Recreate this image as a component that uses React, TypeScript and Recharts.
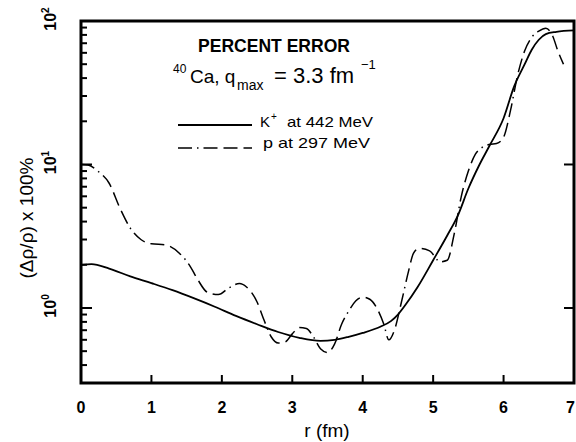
import { Line, LineChart, ReferenceArea, XAxis, YAxis } from "recharts";

// r (fm) and percent error
const R_TICKS = [0, 1, 2, 3, 4, 5, 6, 7];
const ERR_TICKS = [0.4, 0.5, 0.6, 0.7, 0.8, 0.9, 1, 2, 3, 4, 5, 6, 7, 8, 9, 10, 20, 30, 40, 50, 60, 70, 80, 90, 100];
const MAJOR = [1, 10, 100];

const K_R = [0, 0.15, 0.4, 0.7, 1.0, 1.3, 1.6, 1.9, 2.2, 2.5, 2.8, 3.1, 3.4, 3.6, 3.8, 4.0, 4.25, 4.4, 4.5, 4.6, 4.78, 5.0, 5.2, 5.35, 5.5, 5.65, 5.8, 6.0, 6.15, 6.3, 6.4, 6.5, 6.6, 6.75, 7.0];
const K_ERR = [2.0, 2.02, 1.88, 1.66, 1.49, 1.33, 1.17, 1.02, 0.88, 0.77, 0.68, 0.62, 0.59, 0.6, 0.63, 0.67, 0.74, 0.81, 0.9, 1.04, 1.4, 2.15, 3.2, 4.4, 6.8, 9.8, 13.5, 21, 35, 50, 63, 74, 81, 84, 86];

const P_R = [0, 0.1, 0.25, 0.4, 0.55, 0.7, 0.85, 1.0, 1.2, 1.4, 1.55, 1.65, 1.8, 1.95, 2.1, 2.25, 2.35, 2.5, 2.6, 2.7, 2.8, 2.9, 3.0, 3.1, 3.2, 3.3, 3.4, 3.5, 3.6, 3.7, 3.8, 3.9, 4.0, 4.1, 4.2, 4.3, 4.37, 4.45, 4.55, 4.65, 4.72, 4.8, 4.95, 5.1, 5.2, 5.3, 5.4, 5.5, 5.6, 5.7, 5.8, 5.9, 6.0, 6.1, 6.2, 6.3, 6.4, 6.5, 6.6, 6.7, 6.77, 6.85];
const P_ERR = [10.0, 9.9, 8.9, 7.4, 5.0, 3.6, 3.0, 2.8, 2.75, 2.4, 1.95, 1.6, 1.28, 1.24, 1.38, 1.48, 1.4, 1.1, 0.82, 0.63, 0.57, 0.58, 0.66, 0.73, 0.72, 0.63, 0.52, 0.49, 0.56, 0.77, 0.95, 1.12, 1.19, 1.15, 1.0, 0.77, 0.6, 0.7, 1.1, 1.8, 2.4, 2.6, 2.5, 2.1, 2.15, 3.3, 6.0, 9.0, 11.8, 13.2, 13.8, 14.0, 15.5, 24, 42, 62, 77, 85, 89, 78, 62, 50];

const kData = K_R.map((r, i) => ({ r, err: K_ERR[i] }));
const pData = P_R.map((r, i) => ({ r, err: P_ERR[i] }));

const FONT = "'Liberation Sans', Arial, sans-serif";
const LEFT = 81;
const RIGHT = 574;
const BOTTOM = 383;
const DASHDOT = "14 5 1.5 5 14 6 14 6";

function XTick({ x, payload }: any) {
  // the last label sits on the page edge; keep it inside
  const last = x > RIGHT - 6;
  return (
    <g>
      <line x1={x} x2={x} y1={BOTTOM} y2={BOTTOM - 8} stroke="#000" strokeWidth={2} />
      <text x={last ? 575 : x} y={413} textAnchor={last ? "end" : "middle"} fontFamily={FONT} fontWeight="bold" fontSize={16} fill="#000">
        {payload.value}
      </text>
    </g>
  );
}

function YTick({ y, payload }: any) {
  const v = payload.value;
  const major = MAJOR.includes(v);
  const exp = Math.round(Math.log10(v));
  return (
    <g>
      {v < 100 && <line x1={LEFT} x2={LEFT + (major ? 11 : 6)} y1={y} y2={y} stroke="#000" strokeWidth={2} />}
      {major && v < 100 && <line x1={RIGHT} x2={RIGHT - 10} y1={y} y2={y} stroke="#000" strokeWidth={2} />}
      {major && (
        <text x={56} y={y - 2} transform={`rotate(-90 56 ${y - 2})`} textAnchor="middle" fontFamily={FONT} fontWeight="bold" fontSize={16} fill="#000">
          10<tspan dy={-7} fontSize={10}>{exp}</tspan>
        </text>
      )}
    </g>
  );
}

export default function App() {
  return (
    <div style={{ position: "absolute", left: 0, top: 0, width: 576, height: 442, background: "#fff" }}>
      <LineChart width={576} height={442} margin={{ top: 21, right: 2, bottom: 29, left: 21 }}>
        <XAxis dataKey="r" type="number" domain={[0, 7]} ticks={R_TICKS} interval={0} height={30} axisLine={false} tickLine={false} tick={<XTick />} />
        <YAxis type="number" scale="log" domain={[0.3, 100]} allowDataOverflow ticks={ERR_TICKS} interval={0} width={60} axisLine={false} tickLine={false} tick={<YTick />} />
        <ReferenceArea x1={0} x2={7} y1={0.3} y2={100} fill="none" stroke="#000" strokeWidth={3} ifOverflow="visible" />
        <Line data={kData} dataKey="err" type="monotone" stroke="#000" strokeWidth={1.8} dot={false} isAnimationActive={false} />
        <Line data={pData} dataKey="err" type="monotone" stroke="#000" strokeWidth={1.5} strokeDasharray={DASHDOT} dot={false} isAnimationActive={false} />
      </LineChart>
      <svg width={576} height={442} style={{ position: "absolute", left: 0, top: 0, pointerEvents: "none" }} fontFamily={FONT} fill="#000">
        <text x={198} y={52} fontSize={19} fontWeight="bold" textLength={152} lengthAdjust="spacingAndGlyphs">PERCENT ERROR</text>
        <text x={173} y={73} fontSize={21}>
          <tspan fontSize={12}>40</tspan>
          <tspan x={190} y={83} fontSize={19}>Ca, q</tspan>
          <tspan x={237} y={90} fontSize={14}>max</tspan>
          <tspan x={274} y={83} fontSize={22}>= 3.3 fm</tspan>
          <tspan x={361} y={69} fontSize={13}>−1</tspan>
        </text>
        <line x1={178} x2={252} y1={125} y2={125} stroke="#000" strokeWidth={1.8} />
        <text x={260} y={127} fontSize={15}>
          K<tspan x={271} y={120} fontSize={10}>+</tspan>
          <tspan x={287} y={127} textLength={86} lengthAdjust="spacingAndGlyphs">at 442 MeV</tspan>
        </text>
        <line x1={178} x2={252} y1={148} y2={148} stroke="#000" strokeWidth={1.5} strokeDasharray={DASHDOT} />
        <text x={263} y={148} fontSize={15} textLength={107} lengthAdjust="spacingAndGlyphs">p at 297 MeV</text>
        <text x={327} y={437} fontSize={19} textAnchor="middle">r (fm)</text>
        <text x={33} y={218} fontSize={19} textAnchor="middle" transform="rotate(-90 33 218)">(Δρ/ρ) x 100%</text>
      </svg>
    </div>
  );
}
